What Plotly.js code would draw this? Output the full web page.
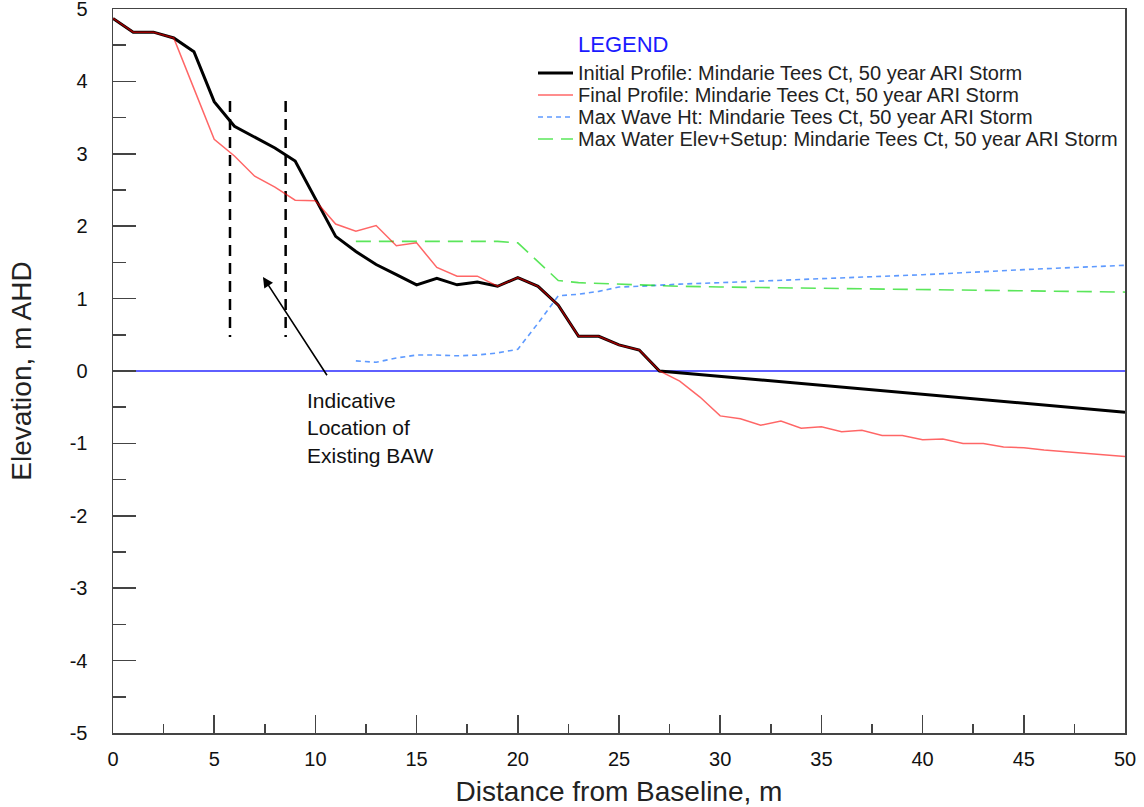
<!DOCTYPE html>
<html>
<head>
<meta charset="utf-8">
<script src="https://cdn.plot.ly/plotly-3.0.1.min.js"></script>
<style>html,body{margin:0;padding:0;background:#fff;}#chart{width:1144px;height:807px;}</style>
</head>
<body>
<div id="chart"></div>
<script>
// ---- data ----
const initialX = [0,1,2,3,4,5,6,7,8,9,10,11,12,13,14,15,16,17,18,19,20,21,22,23,24,25,26,27,50];
const initialY = [4.87,4.68,4.68,4.6,4.41,3.72,3.38,3.23,3.08,2.9,2.38,1.86,1.65,1.47,1.33,1.19,1.28,1.19,1.23,1.17,1.29,1.17,0.91,0.48,0.48,0.36,0.29,0.0,-0.57];

const finalX = [0,1,2,3,4,5,6,7,8,9,10,11,12,13,14,15,16,17,18,19,20,21,22,23,24,25,26,27,28,29,30,31,32,33,34,35,36,37,38,39,40,41,42,43,44,45,46,47,48,49,50];
const finalY = [4.87,4.68,4.68,4.6,3.9,3.2,2.97,2.69,2.54,2.36,2.35,2.03,1.93,2.01,1.73,1.77,1.43,1.31,1.31,1.17,1.29,1.17,0.91,0.48,0.48,0.36,0.29,0.0,-0.14,-0.36,-0.62,-0.66,-0.75,-0.69,-0.79,-0.77,-0.84,-0.82,-0.89,-0.89,-0.95,-0.94,-1.0,-1.0,-1.05,-1.06,-1.09,-1.11,-1.14,-1.16,-1.18];

const waveX = [12,13,14,15,16,17,18,19,20,21,22,23,24,25,26,27,28,30,35,40,45,50];
const waveY = [0.14,0.12,0.18,0.22,0.22,0.21,0.22,0.25,0.3,0.66,1.04,1.06,1.1,1.16,1.17,1.19,1.2,1.22,1.27,1.33,1.4,1.46];

const setupX = [12,13,14,15,16,17,18,19,20,21,22,23,24,25,26,27,28,30,35,40,45,50];
const setupY = [1.79,1.79,1.79,1.79,1.79,1.79,1.79,1.79,1.77,1.51,1.25,1.22,1.21,1.19,1.18,1.17,1.17,1.16,1.145,1.125,1.11,1.09];

const zeroX = [0,50];
const zeroY = [0,0];

const bawX = [5.78, 8.53];
const bawY = [3.73, 0.47];

const arrowHead = [7.41, 1.30];
const arrowTail = [10.62, -0.08];

const seriesNames = [
  "Initial Profile: Mindarie Tees Ct, 50 year ARI Storm",
  "Final Profile: Mindarie Tees Ct, 50 year ARI Storm",
  "Max Wave Ht: Mindarie Tees Ct, 50 year ARI Storm",
  "Max Water Elev+Setup: Mindarie Tees Ct, 50 year ARI Storm"
];

const yTickVals = [-5,-4,-3,-2,-1,0,1,2,3,4,5];
const yTickText = ["-5","-4","-3","-2","-1","0","1","2","3","4","5"];
const xTickVals = [0,5,10,15,20,25,30,35,40,45,50];
const xTickText = ["0","5","10","15","20","25","30","35","40","45","50"];

const FONT = "Liberation Sans, Arial, Helvetica, sans-serif";

// series styles (index matches seriesNames)
const styles = [
  {color: '#000', width: 3, dash: 'solid'},
  {color: 'rgba(255,0,0,0.6)', width: 1.5, dash: 'solid'},
  {color: 'rgba(40,120,255,0.75)', width: 1.6, dash: '5px,4px'},
  {color: 'rgba(20,220,20,0.7)', width: 1.6, dash: '15px,8px'}
];

const traces = [
  {x: zeroX, y: zeroY, mode: 'lines', line: {color: '#2a2aff', width: 1.5}, hoverinfo: 'skip'},
  {x: [bawX[0], bawX[0]], y: bawY, mode: 'lines', line: {color: '#000', width: 2.5, dash: '11px,7px'}, hoverinfo: 'skip'},
  {x: [bawX[1], bawX[1]], y: bawY, mode: 'lines', line: {color: '#000', width: 2.5, dash: '11px,7px'}, hoverinfo: 'skip'},
  {x: waveX, y: waveY, name: seriesNames[2], mode: 'lines', line: styles[2]},
  {x: setupX, y: setupY, name: seriesNames[3], mode: 'lines', line: styles[3]},
  {x: initialX, y: initialY, name: seriesNames[0], mode: 'lines', line: styles[0]},
  {x: finalX, y: finalY, name: seriesNames[1], mode: 'lines', line: styles[1]}
];

// ---- manual legend (paper coordinates) ----
const plotTop = 9, plotBottom = 733, plotLeft = 113, plotRight = 1125;
const py2paper = p => (plotBottom - p) / (plotBottom - plotTop);
const px2paper = p => (p - plotLeft) / (plotRight - plotLeft);
const legendRowsPx = [73, 95, 117, 139];
const legendShapes = [];
const legendAnns = [];
seriesNames.forEach((name, i) => {
  const yy = py2paper(legendRowsPx[i]);
  legendShapes.push({type: 'line', xref: 'paper', yref: 'paper',
    x0: px2paper(538), x1: px2paper(573), y0: yy, y1: yy,
    line: {color: styles[i].color, width: Math.max(styles[i].width, 1.6), dash: styles[i].dash}});
  legendAnns.push({xref: 'paper', yref: 'paper', x: px2paper(576), y: yy, xanchor: 'left', yanchor: 'middle',
    text: name, showarrow: false, font: {family: FONT, size: 20, color: '#222'}});
});

const layout = {
  width: 1144, height: 807,
  margin: {l: plotLeft, r: 1144 - plotRight, t: plotTop, b: 807 - plotBottom},
  paper_bgcolor: '#fff', plot_bgcolor: '#fff',
  font: {family: FONT, size: 20, color: '#111'},
  showlegend: false,
  xaxis: {
    range: [0, 50], autorange: false,
    tickmode: 'array', tickvals: xTickVals, ticktext: xTickText,
    ticks: 'inside', ticklen: 18, tickwidth: 1.5, tickcolor: '#444',
    minor: {tickmode: 'linear', tick0: 0, dtick: 2.5, ticks: 'inside', ticklen: 9, tickwidth: 1.5, tickcolor: '#444'},
    showline: true, linecolor: '#444', linewidth: 1.5, mirror: true,
    showgrid: false, zeroline: false,
    tickfont: {family: FONT, size: 20, color: '#111'},
    ticklabelstandoff: 7,
    title: {text: 'Distance from Baseline, m', font: {family: FONT, size: 28, color: '#222'}, standoff: 13}
  },
  yaxis: {
    range: [-5, 5], autorange: false,
    tickmode: 'array', tickvals: yTickVals, ticktext: yTickText,
    ticks: 'inside', ticklen: 23, tickwidth: 1.5, tickcolor: '#444',
    minor: {tickmode: 'linear', tick0: 0, dtick: 0.5, ticks: 'inside', ticklen: 13, tickwidth: 1.5, tickcolor: '#444'},
    showline: true, linecolor: '#444', linewidth: 1.5, mirror: true,
    showgrid: false, zeroline: false,
    tickfont: {family: FONT, size: 20, color: '#111'},
    ticklabelstandoff: 20,
    ticklabeloverflow: 'allow',
    title: {text: 'Elevation, m AHD', font: {family: FONT, size: 28, color: '#222'}, standoff: 30}
  },
  shapes: legendShapes,
  annotations: [
    {xref: 'paper', yref: 'paper', x: px2paper(576), y: py2paper(44), xanchor: 'left', yanchor: 'middle',
     text: 'LEGEND', showarrow: false, font: {family: FONT, size: 22, color: '#1a1aff'}},
    {xref: 'x', yref: 'y', x: arrowHead[0], y: arrowHead[1], ax: arrowTail[0], ay: arrowTail[1],
     axref: 'x', ayref: 'y', text: '', showarrow: true, arrowhead: 2, arrowsize: 1.3, arrowwidth: 1.6, arrowcolor: '#000'},
    {xref: 'x', yref: 'y', x: 9.48, y: -0.79, xanchor: 'left', yanchor: 'middle', align: 'left',
     text: 'Indicative<br>Location of<br>Existing BAW', showarrow: false,
     font: {family: FONT, size: 21, color: '#111'}}
  ].concat(legendAnns)
};

Plotly.newPlot('chart', traces, layout, {displayModeBar: false, staticPlot: true});
</script>
</body>
</html>
